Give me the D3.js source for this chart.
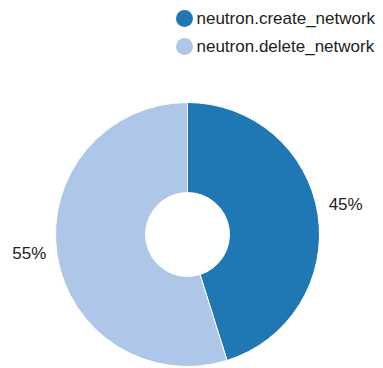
<!DOCTYPE html>
<html>
<head>
<meta charset="utf-8">
<script src="https://cdn.jsdelivr.net/npm/d3@7"></script>
<style>
  html, body { margin: 0; padding: 0; background: #fff; }
  svg { display: block; }
  text { font-family: "Liberation Sans", Arial, sans-serif; }
</style>
</head>
<body>
<svg id="chart" width="383" height="368"></svg>
<script>
const categories = ["neutron.create_network", "neutron.delete_network"];
const values = [14, 17];
const colors = ["#1f77b4", "#aec7e8"];

const svg = d3.select("#chart");
const cx = 187.5, cy = 234.5, outerR = 132, innerR = 42, labelR = 160;

const total = d3.sum(values);
const data = categories.map((c, i) => ({ name: c, value: values[i] }));
const color = d3.scaleOrdinal().domain(categories).range(colors);

const pie = d3.pie().sort(null).value(d => d.value);
const arcs = pie(data);
const arc = d3.arc().innerRadius(innerR).outerRadius(outerR);
const labelArc = d3.arc().innerRadius(labelR).outerRadius(labelR);

const g = svg.append("g").attr("transform", `translate(${cx},${cy})`);
g.selectAll("path.slice").data(arcs).join("path")
  .attr("class", "slice")
  .attr("d", arc)
  .attr("fill", d => color(d.data.name))
  .attr("stroke", "#fff")
  .attr("stroke-width", 1);

g.selectAll("text.lbl").data(arcs).join("text")
  .attr("class", "lbl")
  .attr("transform", d => `translate(${labelArc.centroid(d)})`)
  .attr("text-anchor", "middle")
  .attr("font-size", 17)
  .attr("fill", "#222")
  .text(d => Math.round(d.data.value / total * 100) + "%");

const legend = svg.append("g");
const items = legend.selectAll("g").data(categories).join("g")
  .attr("transform", (d, i) => `translate(184.5,${18.5 + i * 28})`);
items.append("circle").attr("r", 8.5).attr("fill", d => color(d));
items.append("text")
  .attr("x", 12)
  .attr("y", 5.5)
  .attr("font-size", 17)
  .attr("fill", "#222")
  .text(d => d);
</script>
</body>
</html>
